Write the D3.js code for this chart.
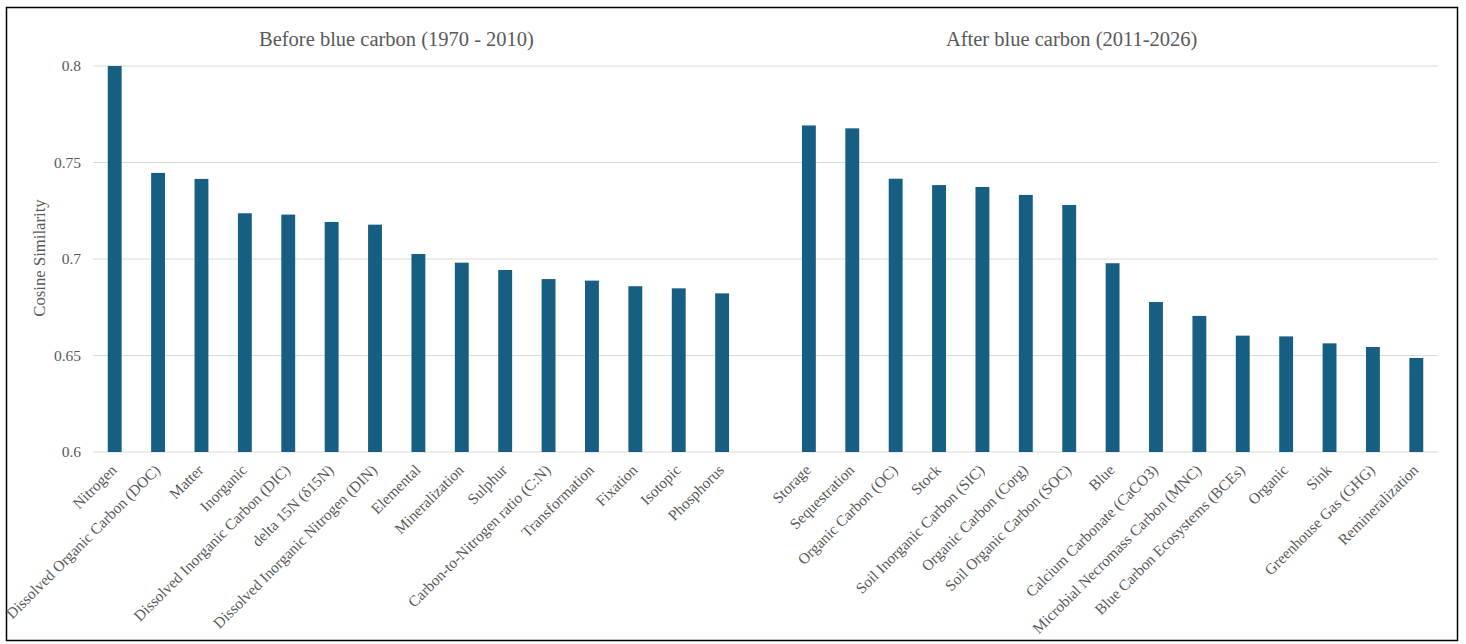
<!DOCTYPE html>
<html>
<head>
<meta charset="utf-8">
<script src="https://cdn.jsdelivr.net/npm/d3@7"></script>
<style>
    body { margin: 0; background: #fff; }
    svg text { font-family: "Liberation Serif", "Times New Roman", serif; fill: #595959; }
    .grid line { stroke: #d9d9d9; stroke-width: 1.2; }
</style>
</head>
<body>
<svg id="chart" width="1466" height="644"></svg>
<script>
// Before blue carbon (1970 - 2010)
const beforeTerms = ["Nitrogen", "Dissolved Organic Carbon (DOC)", "Matter", "Inorganic",
    "Dissolved Inorganic Carbon (DIC)", "delta 15N (δ15N)", "Dissolved Inorganic Nitrogen (DIN)",
    "Elemental", "Mineralization", "Sulphur", "Carbon-to-Nitrogen ratio (C:N)",
    "Transformation", "Fixation", "Isotopic", "Phosphorus"];
const beforeValues = [0.800, 0.7446, 0.7415, 0.7237, 0.7230, 0.7192, 0.7178,
    0.7026, 0.6981, 0.6943, 0.6896, 0.6888, 0.6859, 0.6848, 0.6822];

// After blue carbon (2011-2026)
const afterTerms = ["Storage", "Sequestration", "Organic Carbon (OC)", "Stock",
    "Soil Inorganic Carbon (SIC)", "Organic Carbon (Corg)", "Soil Organic Carbon (SOC)",
    "Blue", "Calcium Carbonate (CaCO3)", "Microbial Necromass Carbon (MNC)",
    "Blue Carbon Ecosystems (BCEs)", "Organic", "Sink", "Greenhouse Gas (GHG)",
    "Remineralization"];
const afterValues = [0.7692, 0.7677, 0.7416, 0.7383, 0.7373, 0.7332, 0.7280,
    0.6978, 0.6777, 0.6705, 0.6603, 0.6599, 0.6563, 0.6544, 0.6487];

const groupTitles = ["Before blue carbon (1970 - 2010)", "After blue carbon (2011-2026)"];
const yTicks = [0.6, 0.65, 0.7, 0.75, 0.8];

const svg = d3.select("#chart");
const plotL = 93, plotR = 1438, plotT = 66, plotB = 452;

// one blank slot between the two groups
const rows = beforeTerms.map((t, i) => ({key: "b" + i, term: t, value: beforeValues[i]}))
    .concat([{key: "gap", term: "", value: null}])
    .concat(afterTerms.map((t, i) => ({key: "a" + i, term: t, value: afterValues[i]})));

const x = d3.scaleBand()
    .domain(rows.map(d => d.key))
    .range([plotL, plotR])
    .paddingInner(0.68)
    .paddingOuter(0.34);

const y = d3.scaleLinear().domain([0.6, 0.8]).range([plotB, plotT]);

// frame
svg.append("rect")
    .attr("x", 6.5).attr("y", 7.5)
    .attr("width", 1451).attr("height", 633)
    .attr("fill", "none").attr("stroke", "#000").attr("stroke-width", 1.5);

// gridlines
svg.append("g").attr("class", "grid")
    .selectAll("line").data(yTicks).join("line")
    .attr("x1", plotL).attr("x2", plotR)
    .attr("y1", d => y(d)).attr("y2", d => y(d));

// y axis labels
const yAxis = svg.append("g")
    .attr("transform", `translate(${plotL},0)`)
    .call(d3.axisLeft(y).tickValues(yTicks).tickFormat(d => String(+d.toFixed(2))).tickSize(0).tickPadding(12));
yAxis.select(".domain").remove();
yAxis.selectAll("text").attr("font-size", 15.5).attr("font-family", "Liberation Serif");

svg.append("text")
    .attr("transform", `translate(45,${(plotT + plotB) / 2 - 1}) rotate(-90)`)
    .attr("text-anchor", "middle")
    .attr("font-size", 16.7)
    .text("Cosine Similarity");

// bars
svg.append("g").selectAll("rect")
    .data(rows.filter(d => d.value !== null)).join("rect")
    .attr("x", d => x(d.key))
    .attr("width", x.bandwidth())
    .attr("y", d => y(d.value))
    .attr("height", d => y(0.6) - y(d.value))
    .attr("fill", "#175f82");

// category labels
svg.append("g").selectAll("text")
    .data(rows.filter(d => d.value !== null)).join("text")
    .attr("transform", d => `translate(${x(d.key) + x.bandwidth() / 2 + 3},${plotB + 19}) rotate(-45)`)
    .attr("text-anchor", "end")
    .attr("font-size", 15.4)
    .text(d => d.term);

// group titles
const titleX = [x("b7") - 15, x("a7") - 34];
svg.append("g").selectAll("text")
    .data(groupTitles).join("text")
    .attr("x", (d, i) => titleX[i])
    .attr("y", 46)
    .attr("text-anchor", "middle")
    .attr("font-size", 20.5)
    .text(d => d);
</script>
</body>
</html>
